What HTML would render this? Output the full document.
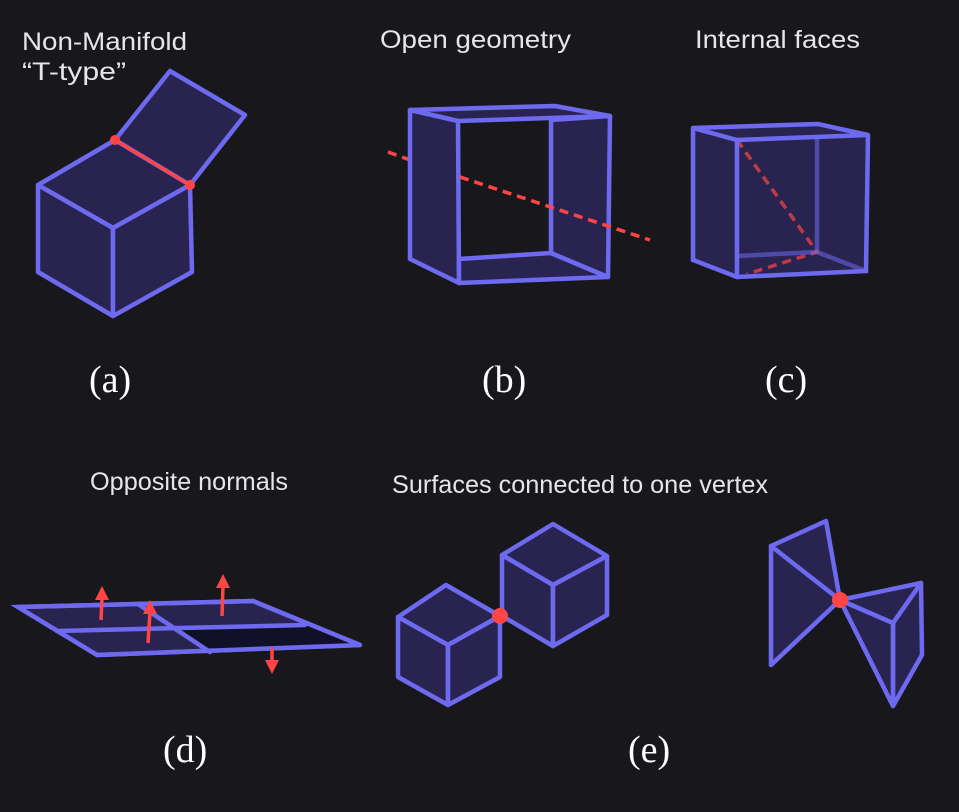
<!DOCTYPE html>
<html><head><meta charset="utf-8"><style>
html,body{margin:0;padding:0;background:#18181c;}
svg{display:block}
.t{font-family:"Liberation Sans",sans-serif;font-size:25px;fill:#e6e6e6;}
.l{font-family:"Liberation Serif",serif;font-size:38px;fill:#ffffff;}
.e{fill:#29244f;stroke:#6d6af0;stroke-width:4.5;stroke-linejoin:round;stroke-linecap:round}
.n{fill:none;stroke:#6d6af0;stroke-width:4.5;stroke-linecap:round}
.r{stroke:#ff4545;stroke-width:3.5;fill:none}
.rd{stroke:#ff4545;stroke-width:3.5;fill:none;stroke-dasharray:9 6}
.rf{fill:#ff4545}
</style></head><body>
<svg width="959" height="812" viewBox="0 0 959 812">
<rect width="959" height="812" fill="#18181c"/>
<!-- (a) -->
<g>
<text class="t" x="22" y="50" textLength="165" lengthAdjust="spacingAndGlyphs">Non-Manifold</text>
<text class="t" x="22" y="80" textLength="104" lengthAdjust="spacingAndGlyphs">“T-type”</text>
<polygon class="e" points="115,140 170,71 245,115 190,185"/>
<polygon class="e" points="38,185 115,140 190,185 113,228"/>
<polygon class="e" points="38,185 113,228 113,316 38,272"/>
<polygon class="e" points="113,228 190,185 192,272 113,316"/>
<line class="r" x1="115" y1="140" x2="190" y2="185"/>
<circle class="rf" cx="115" cy="140" r="5"/><circle class="rf" cx="190" cy="185" r="5"/>
<text class="l" x="89" y="392">(a)</text>
</g>
<!-- (b) -->
<g>
<text class="t" x="380" y="48" textLength="191" lengthAdjust="spacingAndGlyphs">Open geometry</text>
<line class="rd" x1="388" y1="152" x2="410" y2="160"/>
<polygon class="e" points="410,110 555,106 610,116 458,121"/>
<polygon class="e" points="410,110 458,121 459,283 410,259"/>
<polygon class="e" points="459,259 551,253 608,277 459,283"/>
<polygon class="e" points="551,120 610,116 608,277 551,253"/>
<line class="rd" x1="460" y1="177" x2="650" y2="240"/>
<text class="l" x="482" y="392">(b)</text>
</g>
<!-- (c) -->
<g>
<text class="t" x="695" y="48" textLength="165" lengthAdjust="spacingAndGlyphs">Internal faces</text>
<polygon fill="#29244f" points="693,128 818,124 868,135 866,271 737,277 693,260"/>
<path d="M737,140 L817,252 L747,274" class="rd" opacity="0.7"/>
<path class="n" d="M817,138 L817,252 L737,256 M817,252 L866,271" opacity="0.55"/>
<polygon class="n" points="693,128 818,124 868,135 737,140"/>
<polyline class="n" points="693,128 693,260 737,277 866,271 868,135"/>
<line class="n" x1="737" y1="140" x2="737" y2="277"/>
<text class="l" x="765" y="392">(c)</text>
</g>
<!-- (d) -->
<g>
<text class="t" x="90" y="490" textLength="198" lengthAdjust="spacingAndGlyphs">Opposite normals</text>
<polygon class="e" points="18,607 253,601 360,645 97,655"/>
<polygon fill="#101028" points="175,628 305,625 360,645 210,652"/>
<line class="n" x1="57" y1="631" x2="305" y2="625"/>
<line class="n" x1="138" y1="604" x2="210" y2="652"/>
<polygon class="n" points="18,607 253,601 360,645 97,655"/>
<line class="r" x1="101" y1="620" x2="102" y2="598"/><polygon class="rf" points="95,600 102,586 109,600"/>
<line class="r" x1="148" y1="643" x2="150" y2="612"/><polygon class="rf" points="143,614 150,600 157,614"/>
<line class="r" x1="222" y1="616" x2="223" y2="586"/><polygon class="rf" points="216,588 223,574 230,588"/>
<line class="r" x1="272" y1="648" x2="272" y2="662"/><polygon class="rf" points="265,660 272,674 279,660"/>
<text class="l" x="163" y="762">(d)</text>
</g>
<!-- (e) -->
<g>
<text class="t" x="392" y="493" textLength="376" lengthAdjust="spacingAndGlyphs">Surfaces connected to one vertex</text>
<polygon class="e" points="553,524 607,556 553,585 502,555"/>
<polygon class="e" points="502,555 553,585 553,646 502,616"/>
<polygon class="e" points="553,585 607,556 607,615 553,646"/>
<polygon class="e" points="446,585 500,616 448,645 398,617"/>
<polygon class="e" points="398,617 448,645 448,705 398,677"/>
<polygon class="e" points="448,645 500,616 500,677 448,705"/>
<circle class="rf" cx="500" cy="616" r="8"/>
<polygon class="e" points="771,546 826,521 840,600 771,665"/>
<line class="n" x1="771" y1="546" x2="840" y2="600"/>
<polygon class="e" points="893,623 921,583 922,655 893,706"/>
<polygon class="e" points="840,600 893,623 893,706"/>
<polygon class="e" points="840,600 921,583 893,623"/>
<circle class="rf" cx="840" cy="600" r="8"/>
<text class="l" x="628" y="762">(e)</text>
</g>
</svg>
</body></html>
